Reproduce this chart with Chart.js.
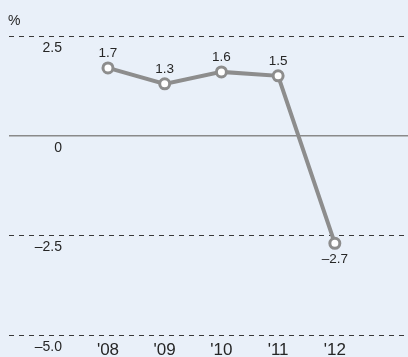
<!DOCTYPE html>
<html>
<head>
<meta charset="utf-8">
<script src="https://cdn.jsdelivr.net/npm/chart.js@4/dist/chart.umd.min.js"></script>
<style>
  html, body { margin: 0; padding: 0; background: #e9f0f9; }
  #wrap { position: relative; width: 408px; height: 357px; }
</style>
</head>
<body>
<div id="wrap"><canvas id="c" width="408" height="357"></canvas></div>
<script>
// Annual change, per cent
const years = ["'08", "'09", "'10", "'11", "'12"];
const values = [1.7, 1.3, 1.6, 1.5, -2.7];
const yTicks = [2.5, 0, -2.5, -5.0];
const unitLabel = '%';

const FONT = '"Liberation Sans", Arial, sans-serif';
const TEXT = '#262626';

function fmtTick(v) {
  if (v === 0) return '0';
  const s = Math.abs(v).toFixed(1);
  return v < 0 ? '\u2013' + s : s;
}
function fmtVal(v) {
  const s = Math.abs(v).toFixed(1);
  return v < 0 ? '\u2013' + s : s;
}

const textPlugin = {
  id: 'texts',
  afterDraw(chart) {
    const ctx = chart.ctx;
    const xs = chart.scales.x, ys = chart.scales.y;
    ctx.save();
    ctx.fillStyle = TEXT;
    ctx.textBaseline = 'alphabetic';

    // unit
    ctx.font = '14px ' + FONT;
    ctx.textAlign = 'left';
    ctx.fillText(unitLabel, 8, 25);

    // y tick labels, sitting just below their gridline
    ctx.textAlign = 'right';
    yTicks.forEach(v => {
      ctx.fillText(fmtTick(v), 62, ys.getPixelForValue(v) + 16);
    });

    // category labels
    ctx.font = '17px ' + FONT;
    ctx.textAlign = 'center';
    years.forEach((y, i) => {
      ctx.fillText(y, xs.getPixelForValue(i), 355);
    });

    // value labels
    ctx.font = '13.5px ' + FONT;
    values.forEach((v, i) => {
      const px = xs.getPixelForValue(i);
      const py = ys.getPixelForValue(v);
      ctx.fillText(fmtVal(v), px, v >= 0 ? py - 11 : py + 20);
    });
    ctx.restore();
  }
};

new Chart(document.getElementById('c'), {
  type: 'line',
  data: {
    datasets: [{
      data: values.map((v, i) => ({ x: i, y: v })),
      borderColor: '#8d8d8d',
      borderWidth: 4,
      tension: 0,
      pointRadius: 5,
      pointBorderWidth: 3,
      pointBackgroundColor: '#ffffff',
      pointBorderColor: '#8d8d8d',
      clip: false
    }]
  },
  options: {
    responsive: false,
    animation: false,
    layout: { autoPadding: false, padding: { top: 36, bottom: 22, left: 9, right: 0 } },
    plugins: { legend: { display: false }, tooltip: { enabled: false } },
    scales: {
      x: {
        type: 'linear',
        display: false,
        min: -1.745,
        max: 5.29
      },
      y: {
        min: -5,
        max: 2.5,
        afterBuildTicks(scale) { scale.ticks = yTicks.map(v => ({ value: v })); },
        ticks: { display: false },
        border: {
          display: false,
          dash: (c) => (c.tick && c.tick.value === 0) ? [] : [5, 5]
        },
        grid: {
          drawTicks: false,
          lineWidth: (c) => (c.tick && c.tick.value === 0) ? 1.5 : 1,
          color: (c) => (c.tick && c.tick.value === 0) ? '#8a8a8a' : '#3a3a3a'
        }
      }
    }
  },
  plugins: [textPlugin]
});
</script>
</body>
</html>
